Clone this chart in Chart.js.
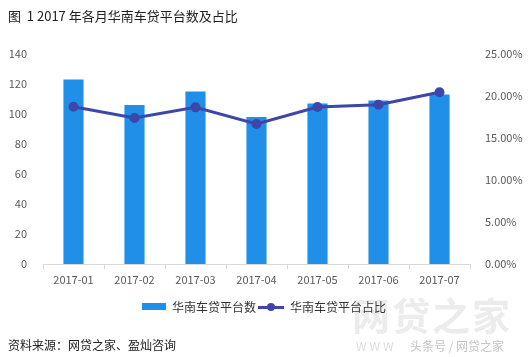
<!DOCTYPE html>
<html><head><meta charset="utf-8">
<script src="https://cdn.jsdelivr.net/npm/chart.js@4"></script>
<style>
html,body{margin:0;padding:0;background:#fff;}
#wrap{position:relative;width:528px;height:357px;overflow:hidden;font-family:"Noto Sans CJK SC","Microsoft YaHei",sans-serif;}
#c{position:absolute;left:0;top:0;}
.t{position:absolute;white-space:nowrap;}
#title{left:8px;top:6px;font-size:13px;color:#222;}
#src{left:8px;top:336px;font-size:12px;color:#222;}
#legend{left:142px;top:298px;font-size:12px;color:#333;display:flex;align-items:center;}
.wm{color:#ececec;font-weight:bold;font-size:38px;left:352px;top:286px;letter-spacing:2px;}
.wm2{color:#c4c4c4;font-size:12px;top:337px;}
</style></head>
<body><div id="wrap">
<canvas id="c" width="528" height="357"></canvas>
<div class="t wm">网贷之家</div>
<div class="t wm2" style="left:356px;color:#dedede;letter-spacing:3px;">WWW</div>
<div class="t wm2" style="left:410px;">头条号 / 网贷之家</div>
<div class="t" id="title">图&nbsp;&nbsp;1 2017 年各月华南车贷平台数及占比</div>
<div class="t" id="legend">
 <span style="display:inline-block;width:24px;height:7px;background:#1f8fe8;margin-right:6px;"></span><span>华南车贷平台数</span>
 <span style="display:inline-block;position:relative;width:26px;height:10px;margin:0 6px 0 2px;"><span style="position:absolute;left:0;right:0;top:4px;height:3px;background:#3f46aa;"></span><span style="position:absolute;left:9px;top:1px;width:8px;height:8px;border-radius:50%;background:#3f46aa;"></span></span><span>华南车贷平台占比</span>
</div>
<div class="t" id="src">资料来源：网贷之家、盈灿咨询</div>
</div>
<script>
const categories = ["2017-01","2017-02","2017-03","2017-04","2017-05","2017-06","2017-07"];
const platformCounts = [123, 106, 115, 98, 107, 109, 113];
const platformShare = [0.1873, 0.1738, 0.1865, 0.1667, 0.1869, 0.1897, 0.2044];
const leftTicks = [0,20,40,60,80,100,120,140];
const rightTicks = [0,0.05,0.10,0.15,0.20,0.25];

const tickFont = {family:"'Noto Sans CJK SC','Open Sans',sans-serif", size:11};
const tickColor = '#595959';

new Chart(document.getElementById('c'), {
  data: {
    labels: categories,
    datasets: [
      {type:'line', label:'华南车贷平台占比', data: platformShare, yAxisID:'y1',
       borderColor:'#3f46aa', backgroundColor:'#3f46aa', borderWidth:3,
       pointRadius:3.5, pointHoverRadius:3.5, pointBackgroundColor:'#3f46aa', tension:0, order:0},
      {type:'bar', label:'华南车贷平台数', data: platformCounts, yAxisID:'y',
       backgroundColor:'#1f8fe8', categoryPercentage:1, barPercentage:0.33, order:1}
    ]
  },
  options: {
    responsive:false, animation:false, devicePixelRatio:1,
    layout:{padding:{left:0,right:0,top:54,bottom:63}},
    plugins:{legend:{display:false}, tooltip:{enabled:false}},
    scales:{
      x:{offset:true,
         grid:{display:true, drawOnChartArea:false, offset:true, color:'#d9d9d9', tickLength:5},
         border:{display:true, color:'#d9d9d9'},
         ticks:{font:tickFont, color:tickColor, padding:4, maxRotation:0},
         afterFit:s=>{s.height=30;}},
      y:{position:'left', min:0, max:140,
         afterBuildTicks:s=>{s.ticks = leftTicks.map(v=>({value:v}));},
         grid:{display:false}, border:{display:false},
         ticks:{font:tickFont, color:tickColor, padding:8},
         afterFit:s=>{s.width=43;}},
      y1:{position:'right', min:0, max:0.25,
         afterBuildTicks:s=>{s.ticks = rightTicks.map(v=>({value:v}));},
         grid:{display:false}, border:{display:false},
         ticks:{font:tickFont, color:tickColor, padding:7, callback:v=>(v*100).toFixed(2)+'%'},
         afterFit:s=>{s.width=58;}}
    }
  }
});
</script>
</body></html>
